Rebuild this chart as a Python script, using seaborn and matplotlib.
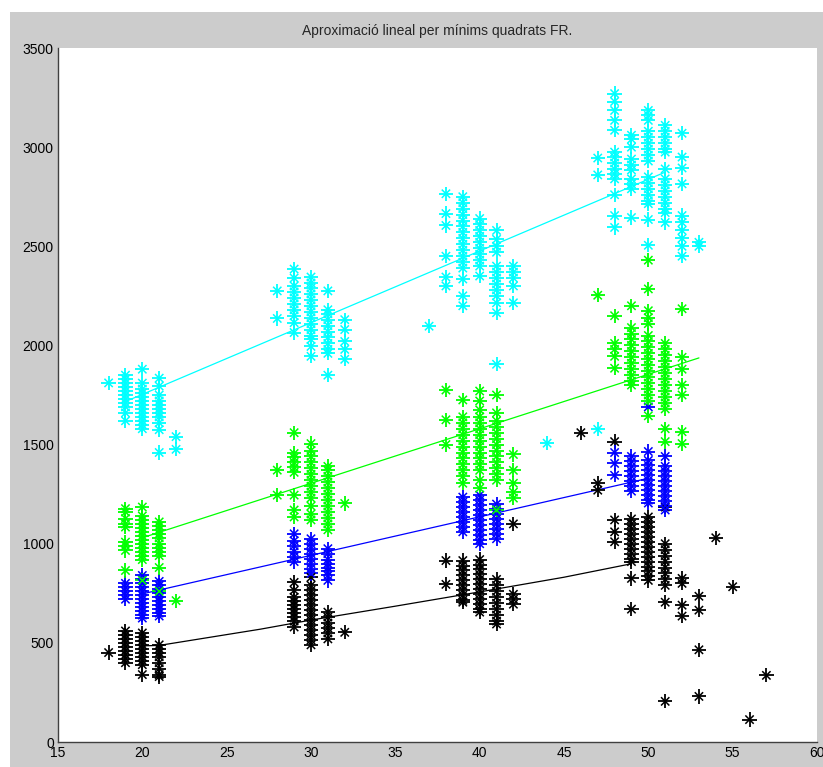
import pandas as pd
import matplotlib
matplotlib.use("Agg")
import matplotlib.pyplot as plt
from matplotlib.patches import Rectangle
import seaborn as sns

sns.set_style("white")
plt.rcParams['font.family'] = ['Liberation Sans', 'DejaVu Sans']

# Punts llegits del gràfic: {edat: [valors]}
black_pts = {
    18: [451],
    19: [560, 540, 520, 500, 480, 460, 440, 420, 400],
    20: [550, 530, 510, 490, 470, 450, 430, 410, 390, 340],
    21: [490, 470, 450, 430, 400, 370, 340, 330],
    29: [805, 765, 730, 710, 690, 670, 650, 630, 610, 580],
    30: [830, 790, 765, 740, 715, 690, 665, 640, 615, 590, 565, 540, 515, 490],
    31: [655, 630, 600, 575, 550, 520],
    32: [553],
    38: [915, 795],
    39: [915, 890, 865, 840, 815, 790, 765, 740, 715, 705],
    40: [920, 895, 870, 845, 820, 795, 770, 745, 720, 695, 670, 655],
    41: [820, 790, 760, 730, 700, 670, 640, 610, 595],
    42: [1100, 745, 720, 695],
    46: [1560],
    47: [1305, 1270],
    48: [1515, 1120, 1060, 1010],
    49: [1125, 1100, 1075, 1050, 1025, 1000, 975, 950, 925, 910, 825, 670],
    50: [1135, 1110, 1085, 1060, 1035, 1010, 985, 960, 935, 910, 885, 860, 835, 815],
    51: [1185, 1000, 970, 940, 910, 880, 850, 820, 790, 705, 205],
    52: [825, 800, 690, 635],
    53: [735, 665, 465, 230],
    54: [1030],
    55: [783],
    56: [113],
    57: [336],
}
blue_pts = {
    19: [800, 780, 760, 740, 720],
    20: [840, 820, 800, 780, 760, 740, 720, 700, 680, 660, 640, 625],
    21: [810, 790, 770, 750, 730, 710, 690, 670, 650, 635],
    29: [1050, 1015, 990, 960, 935, 910],
    30: [1025, 1000, 975, 950, 925, 900, 875, 850],
    31: [975, 950, 920, 900, 880, 860, 840, 815],
    39: [1235, 1210, 1185, 1160, 1135, 1110, 1085, 1060],
    40: [1245, 1220, 1195, 1170, 1145, 1120, 1095, 1070, 1045, 1020, 1000],
    41: [1200, 1175, 1150, 1125, 1100, 1075, 1050, 1025],
    48: [1460, 1405, 1345],
    49: [1440, 1415, 1390, 1365, 1340, 1315, 1290, 1265],
    50: [1690, 1465, 1420, 1395, 1370, 1345, 1320, 1295, 1270, 1245, 1220, 1205],
    51: [1440, 1390, 1365, 1340, 1315, 1290, 1265, 1240, 1215, 1190, 1170],
}
green_pts = {
    19: [1177, 1160, 1127, 1100, 1084, 1008, 990, 966, 865],
    20: [1185, 1140, 1120, 1100, 1080, 1060, 1040, 1020, 1000, 980, 960, 940, 920, 815],
    21: [1110, 1090, 1070, 1050, 1030, 1000, 980, 960, 940, 880, 760],
    22: [713],
    28: [1371, 1245],
    29: [1560, 1455, 1435, 1410, 1385, 1360, 1245, 1170, 1135],
    30: [1505, 1470, 1440, 1410, 1380, 1350, 1320, 1290, 1260, 1230, 1190, 1150, 1120],
    31: [1390, 1370, 1340, 1310, 1280, 1250, 1220, 1190, 1160, 1130, 1100, 1070],
    32: [1203],
    38: [1775, 1625, 1500],
    39: [1725, 1640, 1610, 1580, 1550, 1520, 1490, 1460, 1430, 1400, 1370, 1340, 1305],
    40: [1770, 1720, 1675, 1640, 1610, 1580, 1550, 1520, 1490, 1460, 1430, 1400, 1370, 1320, 1280],
    41: [1750, 1660, 1620, 1590, 1560, 1530, 1500, 1470, 1440, 1410, 1380, 1350, 1320, 1170],
    42: [1450, 1370, 1305, 1260, 1230],
    47: [2253],
    48: [2150, 2010, 1980, 1945, 1885],
    49: [2200, 2090, 2060, 2030, 2000, 1970, 1940, 1910, 1880, 1850, 1820, 1800],
    50: [2430, 2285, 2175, 2140, 2110, 2050, 2020, 1990, 1960, 1930, 1900, 1870, 1840,
         1810, 1780, 1750, 1720, 1645],
    51: [2010, 1980, 1950, 1920, 1890, 1860, 1830, 1800, 1770, 1740, 1710, 1680, 1580, 1515],
    52: [2185, 1940, 1880, 1800, 1750, 1565, 1505],
}
cyan_pts = {
    18: [1811],
    19: [1850, 1830, 1810, 1790, 1770, 1750, 1730, 1710, 1690, 1660, 1620],
    20: [1880, 1810, 1780, 1760, 1740, 1720, 1700, 1680, 1660, 1640, 1620, 1600, 1580],
    21: [1835, 1795, 1750, 1720, 1700, 1680, 1660, 1640, 1610, 1575, 1460],
    22: [1540, 1476],
    28: [2275, 2136],
    29: [2385, 2340, 2300, 2270, 2240, 2210, 2180, 2150, 2115, 2065],
    30: [2345, 2315, 2290, 2260, 2230, 2200, 2170, 2140, 2110, 2080, 2050, 2030, 1995, 1945],
    31: [2275, 2180, 2160, 2130, 2100, 2070, 2040, 2010, 1980, 1960, 1850],
    32: [2130, 2080, 2020, 1980, 1930],
    37: [2097],
    38: [2765, 2665, 2605, 2450, 2345, 2300],
    39: [2750, 2720, 2690, 2660, 2630, 2600, 2570, 2540, 2510, 2480, 2450, 2420, 2390,
         2335, 2250, 2200],
    40: [2640, 2610, 2580, 2550, 2520, 2490, 2460, 2430, 2400, 2350],
    41: [2580, 2535, 2500, 2470, 2400, 2370, 2340, 2310, 2280, 2250, 2215, 2165, 1905],
    42: [2400, 2370, 2340, 2300, 2215],
    44: [1507],
    47: [2945, 2860, 1577],
    48: [3270, 3230, 3185, 3135, 3085, 2975, 2950, 2920, 2890, 2865, 2840, 2760, 2655, 2595],
    49: [3060, 3040, 3000, 2940, 2910, 2885, 2840, 2815, 2790, 2645],
    50: [3185, 3160, 3135, 3080, 3050, 3020, 2990, 2960, 2930, 2850, 2820, 2790, 2760,
         2730, 2715, 2635, 2505],
    51: [3110, 3080, 3050, 3020, 2990, 2975, 2890, 2840, 2810, 2780, 2750, 2720, 2690,
         2670, 2620],
    52: [3070, 2950, 2895, 2815, 2655, 2620, 2580, 2540, 2500, 2450],
    53: [2520, 2500],
}

# Rectes ajustades (vèrtexs llegits)
black_fit_x = [20, 21, 27, 30, 35, 40, 45, 49]
black_fit_y = [485, 487, 569, 615, 685, 757, 831, 899]
blue_fit_x = [20, 50]
blue_fit_y = [747, 1330]
green_fit_x = [20, 53]
green_fit_y = [1030, 1937]
cyan_fit_x = [19, 51]
cyan_fit_y = [1717, 2874]

series = ['negre', 'blau', 'verd', 'cian']
colors = {'negre': 'black', 'blau': 'blue', 'verd': '#00ff00', 'cian': '#00ffff'}

rows = []
for name, pts in zip(series, [black_pts, blue_pts, green_pts, cyan_pts]):
    for x, ys in pts.items():
        for y in ys:
            rows.append((name, x, y))
df = pd.DataFrame(rows, columns=['serie', 'edat', 'valor'])

fits = []
for name, fx, fy in zip(series, [black_fit_x, blue_fit_x, green_fit_x, cyan_fit_x],
                        [black_fit_y, blue_fit_y, green_fit_y, cyan_fit_y]):
    for x, y in zip(fx, fy):
        fits.append((name, x, y))
df_fit = pd.DataFrame(fits, columns=['serie', 'edat', 'valor'])

fig = plt.figure(figsize=(8.23, 7.67), dpi=100, facecolor='white')
fig.patches.append(Rectangle((10 / 823, 0), 1, 755 / 767, transform=fig.transFigure,
                             facecolor='#cccccc', edgecolor='none', zorder=-10))
ax = fig.add_axes([58 / 823, 25 / 767, 759 / 823, 694 / 767])
ax.set_facecolor('white')

sns.lineplot(data=df_fit, x='edat', y='valor', hue='serie', palette=colors,
             hue_order=series, estimator=None, sort=False, linewidth=0.9,
             legend=False, ax=ax, zorder=1)
sns.scatterplot(data=df, x='edat', y='valor', hue='serie', palette=colors,
                hue_order=series, marker='+', s=105, linewidth=1.3,
                legend=False, ax=ax, zorder=2)
sns.scatterplot(data=df, x='edat', y='valor', hue='serie', palette=colors,
                hue_order=series, marker='x', s=36, linewidth=1.1,
                legend=False, ax=ax, zorder=2)

ax.set_xlim(15, 60)
ax.set_ylim(0, 3500)
ax.set_xticks(range(15, 61, 5))
ax.set_yticks(range(0, 3501, 500))
ax.set_xlabel('')
ax.set_ylabel('')
ax.set_title('Aproximació lineal per mínims quadrats FR.', fontsize=10, pad=9)
for s in ['top', 'right']:
    ax.spines[s].set_visible(False)
for s in ['left', 'bottom']:
    ax.spines[s].set_color('#404040')
    ax.spines[s].set_linewidth(1.0)
ax.tick_params(direction='in', length=5, width=1, color='#404040',
               labelsize=10, labelcolor='black', pad=3)

fig.savefig('out.png', dpi=100, facecolor=fig.get_facecolor())
